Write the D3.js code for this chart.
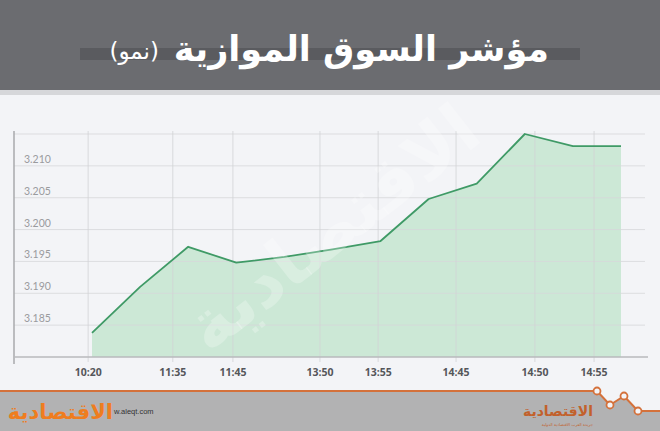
<!DOCTYPE html>
<html><head><meta charset="utf-8">
<script src="https://cdn.jsdelivr.net/npm/d3@7"></script>
<style>
html,body{margin:0;padding:0;background:#f3f4f7;}
svg{display:block;}
</style></head>
<body>
<svg id="chart" width="660" height="431"></svg>
<script>
// ---- data ----
const titleMain = "مؤشر السوق الموازية";
const titleSub = "(نمو)";
const values = [3.1838, 3.1910, 3.1973, 3.1948, 3.1957, 3.1969, 3.1982, 3.2048, 3.2072, 3.2150, 3.2131, 3.2131];
const tickLabels = ["10:20", "11:35", "11:45", "13:50", "13:55", "14:45", "14:50", "14:55"];
const tickAt = [-0.08, 1.68, 2.93, 4.74, 5.95, 7.57, 9.21, 10.44]; // position along the series index
const yTicks = [3.185, 3.190, 3.195, 3.200, 3.205, 3.210];
const yGrid = [3.185, 3.190, 3.195, 3.200, 3.205, 3.210, 3.215];
const yDomain = [3.180, 3.215];

const svg = d3.select("#chart");
const W = 660, H = 431;

svg.append("rect").attr("width", W).attr("height", H).attr("fill", "#f3f4f7");

// header
svg.append("rect").attr("x", 0).attr("y", 0).attr("width", W).attr("height", 95).attr("fill", "#d6d7da");
svg.append("rect").attr("x", 0).attr("y", 0).attr("width", W).attr("height", 90).attr("fill", "#6b6c70");
svg.append("rect").attr("x", 80).attr("y", 48).attr("width", 500).attr("height", 12).attr("fill", "#5a5b5f");
svg.append("text").attr("x", 549).attr("y", 61)
  .attr("text-anchor", "end")
  .attr("font-family", "DejaVu Sans, sans-serif").attr("font-weight", "bold")
  .attr("font-size", 35).attr("fill", "#ffffff").text(titleMain);
svg.append("text").attr("x", 159).attr("y", 59)
  .attr("text-anchor", "end")
  .attr("font-family", "DejaVu Sans, sans-serif")
  .attr("font-size", 23).attr("fill", "#ffffff").text(titleSub);

// scales
const x = d3.scaleLinear().domain([0, values.length - 1]).range([92, 621]);
const y = d3.scaleLinear().domain(yDomain).range([357, 134]);

// grid
const g = svg.append("g");
g.selectAll("line.hg").data(yGrid).join("line")
  .attr("x1", 14).attr("x2", 645)
  .attr("y1", d => y(d)).attr("y2", d => y(d))
  .attr("stroke", "#d6d7da").attr("stroke-width", 1);
g.selectAll("line.vg").data(tickAt).join("line")
  .attr("x1", d => x(d)).attr("x2", d => x(d))
  .attr("y1", 131).attr("y2", 362)
  .attr("stroke", "#d2d3d6").attr("stroke-width", 1);

// area + line
const area = d3.area().x((d, i) => x(i)).y0(y(yDomain[0])).y1(d => y(d));
const line = d3.line().x((d, i) => x(i)).y(d => y(d));
svg.append("path").datum(values).attr("d", area).attr("fill", "#c9e7d4").attr("fill-opacity", 0.95);

// grid over fill (faint)
g.raise();
g.selectAll("line").attr("stroke-opacity", 0.8);

svg.append("path").datum(values).attr("d", line)
  .attr("fill", "none").attr("stroke", "#3f9a66").attr("stroke-width", 1.8).attr("stroke-linejoin", "round");

// axes lines
svg.append("line").attr("x1", 14).attr("x2", 14).attr("y1", 131).attr("y2", 364)
  .attr("stroke", "#a9aaad").attr("stroke-width", 1.5);
svg.append("line").attr("x1", 14).attr("x2", 648).attr("y1", y(yDomain[0])).attr("y2", y(yDomain[0]))
  .attr("stroke", "#b9babd").attr("stroke-width", 1.5);

// y labels
svg.selectAll("text.yl").data(yTicks).join("text")
  .attr("x", 24).attr("y", d => y(d) - 3)
  .attr("font-family", "Lato, sans-serif").attr("font-size", 10.5)
  .attr("fill", "#9a9b9e").text(d => d.toFixed(3));

// x labels
svg.selectAll("text.xl").data(tickLabels).join("text")
  .attr("x", (d, i) => x(tickAt[i])).attr("y", 376)
  .attr("text-anchor", "middle")
  .attr("font-family", "Open Sans, sans-serif").attr("font-weight", "bold").attr("font-size", 10.5)
  .attr("fill", "#55565a").text(d => d);

// watermark
svg.append("text").attr("transform", "translate(335,232) rotate(-38)")
  .attr("text-anchor", "middle").attr("dominant-baseline", "middle")
  .attr("font-family", "DejaVu Sans, sans-serif").attr("font-weight", "bold")
  .attr("font-size", 70).attr("fill", "#ffffff").attr("fill-opacity", 0.25)
  .text("الاقتصادية");

// footer
svg.append("path")
  .attr("d", "M0,391 L597,391 L610,405 L624,396 L638,411 L660,411 L660,431 L0,431 Z")
  .attr("fill", "#b2b2b3");
svg.append("path")
  .attr("d", "M0,391 L597,391 L610,405 L624,396 L638,411 L660,411")
  .attr("fill", "none").attr("stroke", "#d4713b").attr("stroke-width", 2);
svg.selectAll("circle.fc").data([[597, 391], [610, 405], [624, 396], [638, 411]]).join("circle")
  .attr("cx", d => d[0]).attr("cy", d => d[1]).attr("r", 3.5)
  .attr("fill", "#f3f4f7").attr("stroke", "#d4713b").attr("stroke-width", 1.8);

svg.append("text").attr("x", 113).attr("y", 419).attr("text-anchor", "end")
  .attr("font-family", "DejaVu Sans, sans-serif").attr("font-weight", "bold")
  .attr("font-size", 21).attr("fill", "#ef7d1f").text("الاقتصادية");
svg.append("text").attr("x", 114).attr("y", 414)
  .attr("font-family", "Liberation Sans, sans-serif").attr("font-size", 7.5)
  .attr("fill", "#333").text("w.aleqt.com");

svg.append("text").attr("x", 593).attr("y", 416).attr("text-anchor", "end")
  .attr("font-family", "DejaVu Sans, sans-serif").attr("font-weight", "bold")
  .attr("font-size", 14).attr("fill", "#c2612c").text("الاقتصادية");
svg.append("text").attr("x", 593).attr("y", 425.5).attr("text-anchor", "end")
  .attr("font-family", "DejaVu Sans, sans-serif")
  .attr("font-size", 4).attr("fill", "#c2612c").text("جريدة العرب الاقتصادية الدولية");
</script>
</body></html>
